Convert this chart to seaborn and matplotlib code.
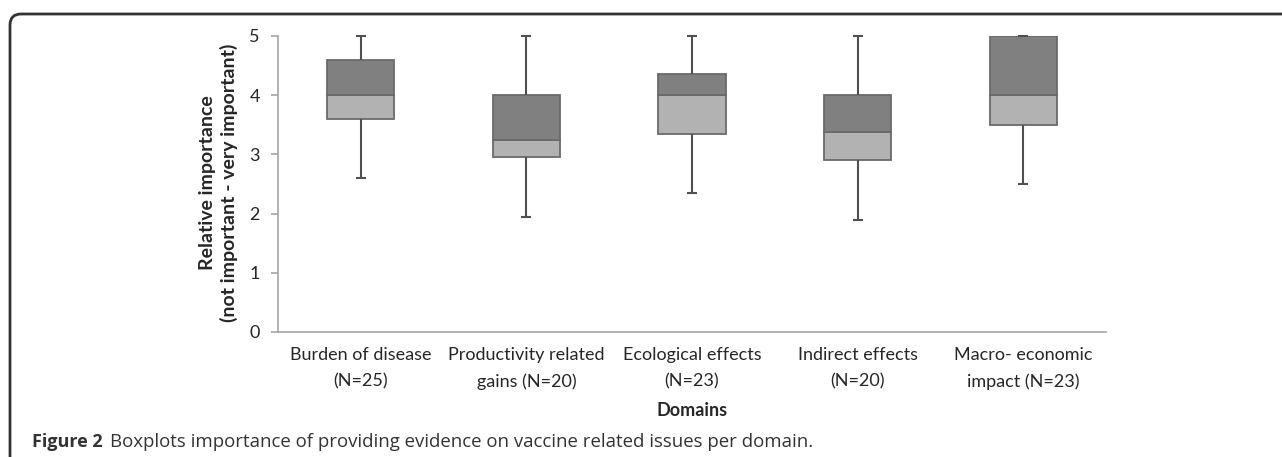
import matplotlib
matplotlib.use("Agg")
import matplotlib.pyplot as plt
from matplotlib.patches import FancyBboxPatch
from matplotlib.transforms import IdentityTransform
import pandas as pd
import seaborn as sns

domains = ["Burden of disease\n(N=25)", "Productivity related\ngains (N=20)",
           "Ecological effects\n(N=23)", "Indirect effects\n(N=20)",
           "Macro- economic\nimpact (N=23)"]
w_low = [2.6, 1.95, 2.35, 1.9, 2.5]
q1 = [3.6, 2.95, 3.35, 2.9, 3.5]
median = [4.0, 3.25, 4.0, 3.38, 4.0]
q3 = [4.6, 4.0, 4.35, 4.0, 5.0]
w_high = [5.0, 5.0, 5.0, 5.0, 5.0]

df = pd.DataFrame({"domain": domains, "q1": q1, "median": median, "q3": q3,
                   "low": w_low, "high": w_high})
df["lower"] = df["median"] - df["q1"]
df["upper"] = df["q3"] - df["median"]

sns.set_style("white")
plt.rcParams["font.family"] = ["Lato", "DejaVu Sans"]

fig = plt.figure(figsize=(12.82, 4.57), dpi=100)
ax = fig.add_axes([278 / 1282, 1 - 332 / 457, 828 / 1282, 296 / 457])

# stacked halves of each box: Q1->median (light), median->Q3 (dark)
edge = "#6a6a6a"
sns.barplot(data=df, x="domain", y="lower", bottom=df["q1"], color="#b2b2b2",
            saturation=1, width=0.405, edgecolor=edge, linewidth=1.3,
            errorbar=None, ax=ax)
sns.barplot(data=df, x="domain", y="upper", bottom=df["median"], color="#808080",
            saturation=1, width=0.405, edgecolor=edge, linewidth=1.3,
            errorbar=None, ax=ax)

xs = range(len(domains))
wc = "#505050"
ax.vlines(xs, df["q3"], df["high"], color=wc, lw=1.5, zorder=3, clip_on=False)
ax.vlines(xs, df["low"], df["q1"], color=wc, lw=1.5, zorder=3, clip_on=False)
ax.plot(xs, df["high"], ls="none", marker="_", ms=7, mew=1.5, color=wc, clip_on=False, zorder=4)
ax.plot(xs, df["low"], ls="none", marker="_", ms=7, mew=1.5, color=wc, clip_on=False, zorder=4)

ax.set_ylim(0, 5)
ax.set_xlim(-0.5, len(domains) - 0.5)
ax.set_yticks([0, 1, 2, 3, 4, 5])
ax.set_xticks([i - 0.5 for i in range(len(domains) + 1)], minor=True)
ax.set_xticks(list(xs))
ax.set_xticklabels(domains, fontsize=13, color="#262626", linespacing=1.75)
ax.tick_params(axis="x", which="major", length=0, pad=11)
ax.tick_params(axis="x", which="minor", length=5, color="#a6a6a6", width=1.2, direction="out")
ax.tick_params(axis="y", length=5, color="#a6a6a6", width=1.2, direction="out", labelsize=13,
               labelcolor="#262626", left=True, pad=8)

for s in ["top", "right"]:
    ax.spines[s].set_visible(False)
for s in ["left", "bottom"]:
    ax.spines[s].set_color("#a6a6a6")
    ax.spines[s].set_linewidth(1.2)

ax.set_xlabel("Domains", fontsize=13, fontweight="bold", color="#262626")
ax.xaxis.set_label_coords(0.5, -0.236)
ax.set_ylabel("")
fig.text(218.5 / 1282, 1 - 183 / 457, "Relative importance\n(not important - very important)",
         rotation=90, ha="center", va="center", fontsize=14, fontweight="bold",
         color="#262626", linespacing=1.2)

frame = FancyBboxPatch((10, -30), 1400, 443 + 30,
                       boxstyle="round,pad=0,rounding_size=11",
                       transform=IdentityTransform(), fill=False, lw=2, ec="#333333")
fig.add_artist(frame)

cap = ["Open Sans", "DejaVu Sans"]
fig.text(32 / 1282, 1 - 442 / 457, "Figure 2", fontsize=13, fontweight="bold",
         color="#333333", va="center", family=cap)
fig.text(110 / 1282, 1 - 442 / 457,
         "Boxplots importance of providing evidence on vaccine related issues per domain.",
         fontsize=13.4, color="#333333", va="center", family=cap)

fig.savefig("out.png", dpi=100)
